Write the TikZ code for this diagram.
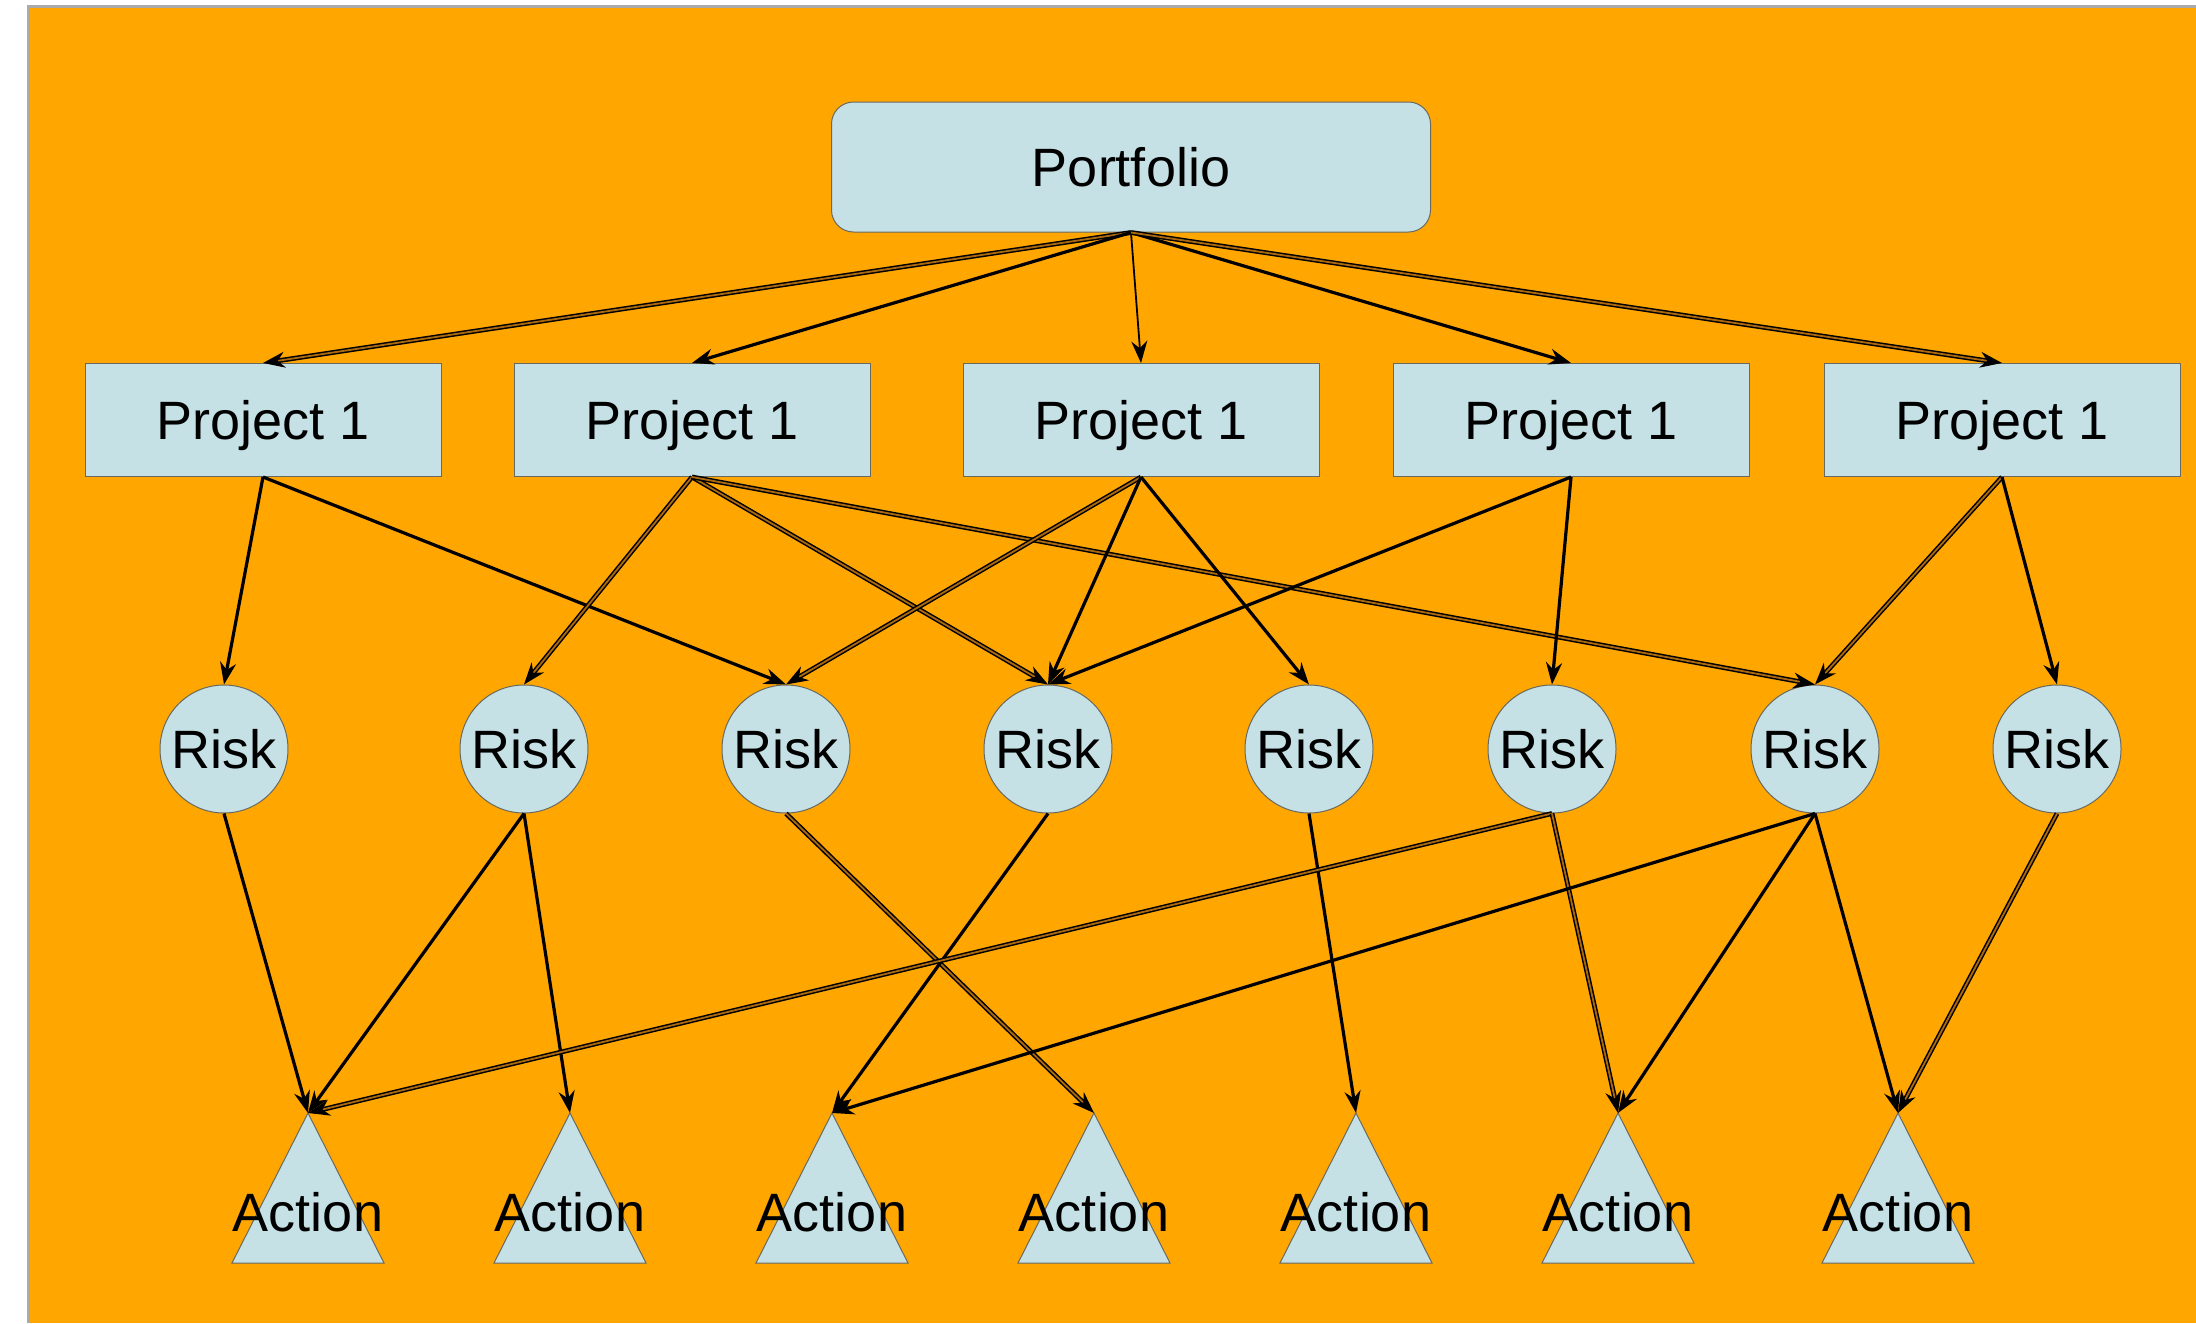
\documentclass[tikz,border=0pt]{standalone}
\usepackage{fontspec}
\setmainfont{Liberation Sans}
\usetikzlibrary{arrows.meta}
\definecolor{bg}{RGB}{255,166,0}
\definecolor{nodefill}{RGB}{197,225,230}
\definecolor{nodeedge}{RGB}{105,105,95}
\definecolor{framegray}{RGB}{170,170,170}
\definecolor{dblin}{RGB}{170,105,15}
\begin{document}
\begin{tikzpicture}[x=0.5pt,y=-0.5pt,
  lbl/.style={font=\fontsize{27}{30}\selectfont, text=black, text height=19.3pt, text depth=0pt, inner sep=0pt},
  boxnode/.style={lbl, draw=nodeedge, fill=nodefill, line width=0.5pt},
  portnode/.style={boxnode, rounded corners=11pt, minimum width=299.5pt, minimum height=65pt},
  projnode/.style={boxnode, minimum width=178pt, minimum height=56.5pt},
  risknode/.style={boxnode, circle, minimum size=64pt},
  tri/.style={draw=nodeedge, fill=nodefill, line width=0.5pt},
  edge/.style={draw=black, line width=1.6pt, -{Stealth[length=11pt,width=8pt]}},
  thinedge/.style={edge, line width=0.9pt},
  dbl/.style={edge, line width=0.75pt, double=dblin, double distance=0.9pt}
]
\useasboundingbox (0,0) rectangle (2196,1323);
\fill[white] (0,0) rectangle (2196,1323);
\fill[bg] (28,6) rectangle (2196,1323);
\draw[framegray, line width=1.5pt] (28,1323) -- (28,6) -- (2196,6);

% Portfolio
\node[portnode] (port) at (1131,167) {Portfolio};

% Projects
\node[projnode] (p1) at (263,420) {Project 1};
\node[projnode] (p2) at (692,420) {Project 1};
\node[projnode] (p3) at (1141,420) {Project 1};
\node[projnode] (p4) at (1571,420) {Project 1};
\node[projnode] (p5) at (2002,420) {Project 1};

% Risks
\node[risknode] (r1) at (224,749) {Risk};
\node[risknode] (r2) at (524,749) {Risk};
\node[risknode] (r3) at (786,749) {Risk};
\node[risknode] (r4) at (1048,749) {Risk};
\node[risknode] (r5) at (1309,749) {Risk};
\node[risknode] (r6) at (1552,749) {Risk};
\node[risknode] (r7) at (1815,749) {Risk};
\node[risknode] (r8) at (2057,749) {Risk};

% Actions (triangles + labels)
\foreach \i/\x in {1/308,2/570,3/832,4/1094,5/1356,6/1618,7/1898}{
  \path[tri] (\x,1113) -- (\x+76,1263) -- (\x-76,1263) -- cycle;
  \coordinate (a\i) at (\x,1113);
  \node[lbl] (at\i) at (\x,1212) {Action};
}

% Portfolio -> projects
\draw[dbl] (port.south) -- (p1.north);
\draw[edge] (port.south) -- (p2.north);
\draw[thinedge] (port.south) -- (p3.north);
\draw[edge] (port.south) -- (p4.north);
\draw[dbl] (port.south) -- (p5.north);

% Projects -> risks
\draw[edge] (p1.south) -- (r1.north);
\draw[edge] (p1.south) -- (r3.north);
\draw[dbl] (p2.south) -- (r2.north);
\draw[dbl] (p2.south) -- (r4.north);
\draw[dbl] (p2.south) -- (r7.north);
\draw[dbl] (p3.south) -- (r3.north);
\draw[edge] (p3.south) -- (r4.north);
\draw[edge] (p3.south) -- (r5.north);
\draw[edge] (p4.south) -- (r4.north);
\draw[edge] (p4.south) -- (r6.north);
\draw[dbl] (p5.south) -- (r7.north);
\draw[edge] (p5.south) -- (r8.north);

% Risks -> actions
\draw[edge] (r1.south) -- (a1);
\draw[edge] (r2.south) -- (a1);
\draw[edge] (r2.south) -- (a2);
\draw[dbl] (r3.south) -- (a4);
\draw[edge] (r4.south) -- (a3);
\draw[edge] (r5.south) -- (a5);
\draw[dbl] (r6.south) -- (a1);
\draw[dbl] (r6.south) -- (a6);
\draw[edge] (r7.south) -- (a3);
\draw[edge] (r7.south) -- (a6);
\draw[edge] (r7.south) -- (a7);
\draw[dbl] (r8.south) -- (a7);
\end{tikzpicture}
\end{document}
